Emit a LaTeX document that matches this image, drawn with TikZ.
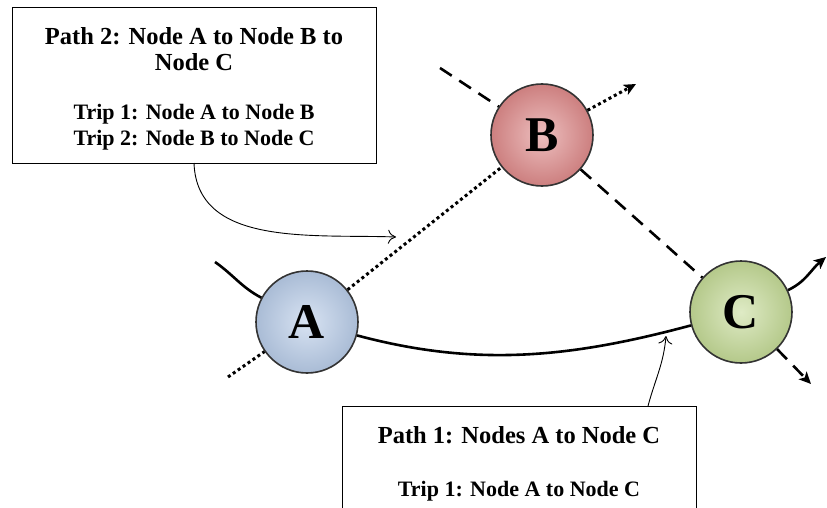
\documentclass[tikz,border=0pt]{standalone}
\usepackage{fontspec}
\setmainfont{Liberation Serif}
\usetikzlibrary{arrows.meta}
\definecolor{cA}{RGB}{184,204,232}
\definecolor{cB}{RGB}{222,138,138}
\definecolor{cC}{RGB}{196,218,150}
\tikzset{
  ball/.style={circle, minimum size=102pt, inner sep=0pt, draw=black!80, line width=1.6pt,
     inner color=#1!55!white, outer color=#1!92!black, font=\bfseries\fontsize{50}{50}\selectfont},
  box/.style={draw, line width=1pt, fill=white},
  ttl/.style={anchor=base, font=\bfseries\fontsize{24.5}{26}\selectfont},
  trp/.style={anchor=base, font=\bfseries\fontsize{22}{23}\selectfont},
  solidline/.style={line width=2.6pt},
  dotline/.style={line width=3pt, dash pattern=on 3pt off 3pt},
  dashline/.style={line width=2.6pt, dash pattern=on 14pt off 9pt},
  note/.style={line width=0.9pt, -{To[length=8pt,width=14pt]}},
  tip/.style={-{Stealth[length=12pt,width=11pt,inset=3pt]}}
}
\begin{document}
\begin{tikzpicture}[x=1pt,y=-1pt]
\useasboundingbox (0,0) rectangle (827,508);
\clip (0,0) rectangle (827,508);
% balls
\node[ball=cA] (A) at (307,322) {A};
\node[ball=cB] (B) at (542,135) {B};
\node[ball=cC] (C) at (741,312) {C};
% solid path A -> C
\coordinate (s0) at (215,262);
\coordinate (s1) at (826,257);
\draw[solidline] (s0) to[out=-35,in=152] (A);
\draw[solidline] (A) to[out=-15,in=195,looseness=0.95] (C);
\draw[solidline,tip] (C) to[out=25,in=220] (s1);
% dotted path A -> B
\coordinate (d0) at (228,377);
\coordinate (d1) at (636,84);
\draw[dotline] (d0) -- (A);
\draw[dotline] (A) -- (B);
\draw[dotline,tip] (B) -- (d1);
% dashed path B -> C
\coordinate (h0) at (440,68);
\coordinate (h1) at (811,384);
\draw[dashline] (h0) -- (B);
\draw[dashline] (B) -- (C);
\draw[dashline,tip] (C) -- (h1);
% box path 2
\node[box, minimum width=364pt, minimum height=156pt, anchor=north west] (p2) at (12,7) {};
\node[ttl] (p2a) at (194,45) {Path 2: Node A to Node B to};
\node[ttl] (p2b) at (194,71) {Node C};
\node[trp] (p2c) at (194,120) {Trip 1: Node A to Node B};
\node[trp] (p2d) at (194,146) {Trip 2: Node B to Node C};
% box path 1
\node[box, minimum width=354pt, minimum height=130pt, anchor=north west] (p1) at (342,406) {};
\node[ttl] (p1a) at (519,443) {Path 1: Nodes A to Node C};
\node[trp] (p1b) at (519,496) {Trip 1: Node A to Node C};
% annotation arrows
\coordinate (t2) at (396,237);
\draw[note] (194,163) coordinate (n2s) to[out=-88,in=178] (t2);
\coordinate (t1) at (666,336);
\draw[note] (648,406) coordinate (n1s) to[out=75,in=-95] (t1);
\end{tikzpicture}
\end{document}
